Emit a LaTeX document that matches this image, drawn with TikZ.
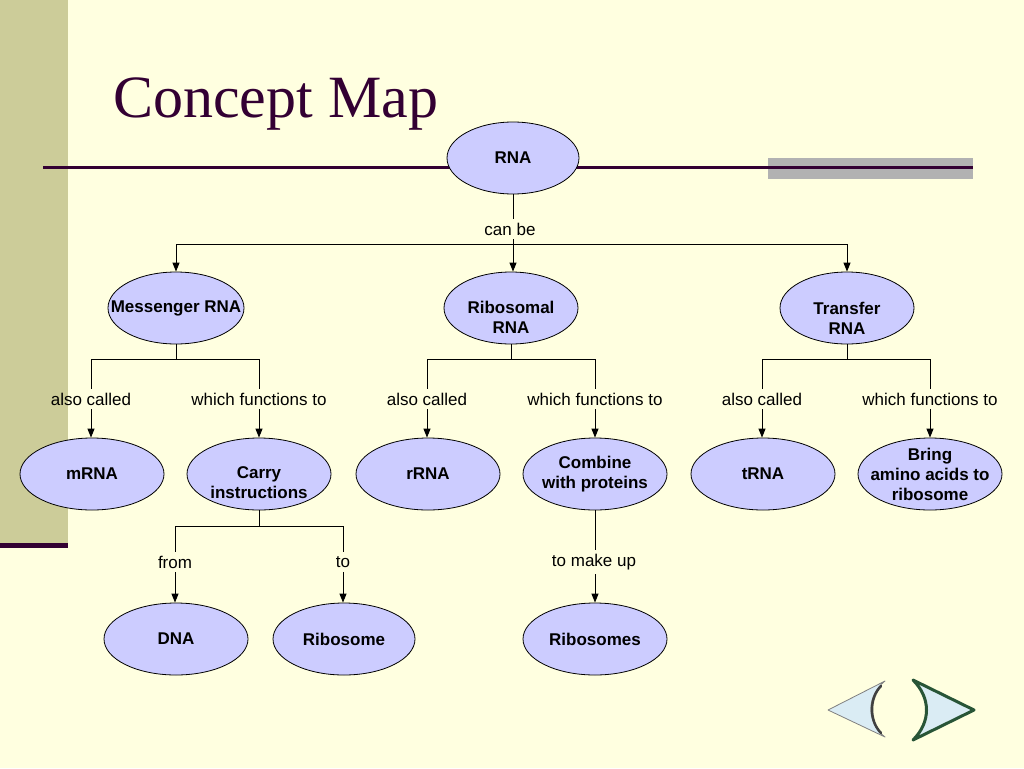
\documentclass[tikz,border=0pt]{standalone}
\usepackage{fontspec}
\setmainfont{Liberation Sans}
\newfontfamily\titlefont{Liberation Serif}
\usetikzlibrary{shapes.geometric,arrows.meta}
\definecolor{bgc}{RGB}{255,255,224}
\definecolor{barc}{RGB}{204,204,153}
\definecolor{darkp}{RGB}{51,0,51}
\definecolor{grayband}{RGB}{178,178,178}
\definecolor{ellfill}{RGB}{204,204,255}
\definecolor{navfill}{RGB}{218,236,244}
\definecolor{navgreen}{RGB}{40,85,55}
\begin{document}
\begin{tikzpicture}[x=1pt,y=-1pt,
  con/.style={ellipse,draw=black,line width=0.8pt,fill=ellfill,minimum width=134pt,minimum height=72pt,inner sep=0pt},
  ctext/.style={font=\bfseries\fontsize{17}{20}\selectfont,align=center,inner sep=0pt},
  lab/.style={font=\fontsize{17}{20}\selectfont,inner sep=4pt},
  conn/.style={line width=1pt,black},
  arr/.style={conn,-{Triangle[length=9pt,width=7pt]}}]
% background
\fill[bgc] (0,0) rectangle (1024,768);
\useasboundingbox (0,0) rectangle (1024,768);
\fill[barc] (0,0) rectangle (68,545);
\fill[darkp] (0,543) rectangle (68,548);
\fill[grayband] (768,158) rectangle (973,179);
\draw[darkp,line width=3pt] (43,167) -- (973,167);
% title
\node[anchor=base west,font=\titlefont\fontsize{60}{60}\selectfont,text=darkp,inner sep=0pt] (title) at (113,117) {Concept Map};
% concepts
\node[con,minimum width=132pt,label={[ctext]center:RNA}] (rna) at (513,158) {};
\node[con,minimum width=136pt,label={[ctext]center:Messenger RNA}] (msg) at (176,308) {};
\node[con,label={[ctext,yshift=-9pt]center:Ribosomal\\RNA}] (ribo) at (511,308) {};
\node[con,label={[ctext,yshift=-10pt]center:Transfer\\RNA}] (trans) at (847,308) {};
\node[con,minimum width=144pt,label={[ctext]center:mRNA}] (mrna) at (92,474) {};
\node[con,minimum width=144pt,label={[ctext,yshift=-9pt]center:Carry\\instructions}] (carry) at (259,474) {};
\node[con,minimum width=144pt,label={[ctext]center:rRNA}] (rrna) at (428,474) {};
\node[con,minimum width=144pt,label={[ctext]center:Combine\\with proteins}] (comb) at (595,474) {};
\node[con,minimum width=144pt,label={[ctext]center:tRNA}] (trna) at (763,474) {};
\node[con,minimum width=144pt,label={[ctext]center:Bring\\amino acids to\\ribosome}] (bring) at (930,474) {};
\node[con,minimum width=144pt,label={[ctext]center:DNA}] (dna) at (176,639) {};
\node[con,minimum width=142pt,label={[ctext]center:Ribosome}] (ribosome) at (344,639) {};
\node[con,minimum width=144pt,label={[ctext]center:Ribosomes}] (ribosomes) at (595,639) {};
% linking labels
\node[lab] (canbe) at (510,229) {can be};
\node[lab] (ac1) at (91,399) {also called};
\node[lab] (wf1) at (259,399) {which functions to};
\node[lab] (ac2) at (427,399) {also called};
\node[lab] (wf2) at (595,399) {which functions to};
\node[lab] (ac3) at (762,399) {also called};
\node[lab] (wf3) at (930,399) {which functions to};
\node[lab] (from) at (175,562) {from};
\node[lab] (to) at (343,562) {to};
\node[lab] (tmu) at (594,562) {to make up};
% junctions
\coordinate (b1) at (513,244);
\coordinate (m1) at (176,359);
\coordinate (r1) at (511,359);
\coordinate (t1) at (847,359);
\coordinate (c1) at (259,526);
% connectors
\draw[conn] (rna.south) -- (rna.south |- canbe.north);
\draw[conn] (rna.south |- canbe.south) -- (b1);
\draw[arr] (b1) -| (msg.north);
\draw[arr] (b1) -- (b1 |- ribo.north);
\draw[arr] (b1) -| (trans.north);
\draw[conn] (msg.south) -- (m1);
\draw[conn] (m1) -| (ac1.north);
\draw[conn] (m1) -| (wf1.north);
\draw[arr] (ac1.south) -- (ac1.south |- mrna.north);
\draw[arr] (wf1.south) -- (wf1.south |- carry.north);
\draw[conn] (ribo.south) -- (r1);
\draw[conn] (r1) -| (ac2.north);
\draw[conn] (r1) -| (wf2.north);
\draw[arr] (ac2.south) -- (ac2.south |- rrna.north);
\draw[arr] (wf2.south) -- (wf2.south |- comb.north);
\draw[conn] (trans.south) -- (t1);
\draw[conn] (t1) -| (ac3.north);
\draw[conn] (t1) -| (wf3.north);
\draw[arr] (ac3.south) -- (ac3.south |- trna.north);
\draw[arr] (wf3.south) -- (wf3.south |- bring.north);
\draw[conn] (carry.south) -- (c1);
\draw[conn] (c1) -| (from.north);
\draw[conn] (c1) -| (to.north);
\draw[arr] (from.south) -- (from.south |- dna.north);
\draw[arr] (to.south) -- (to.south |- ribosome.north);
\draw[conn] (comb.south) -- (comb.south |- tmu.north);
\draw[arr] (comb.south |- tmu.south) -- (ribosomes.north);
% navigation buttons
\filldraw[fill=navfill,draw=gray,line width=0.8pt,line join=round]
  (828,710) -- (885,681) .. controls (866,696) and (866,723) .. (885,737) -- cycle;
\draw[black!75,line width=2.5pt,line cap=round] (881,686) .. controls (869,698) and (869,721) .. (881,733);
\filldraw[fill=navfill,draw=navgreen,line width=3pt,line join=round]
  (913,680) -- (974,710) -- (913,740) .. controls (931,722) and (931,698) .. cycle;
\end{tikzpicture}
\end{document}
